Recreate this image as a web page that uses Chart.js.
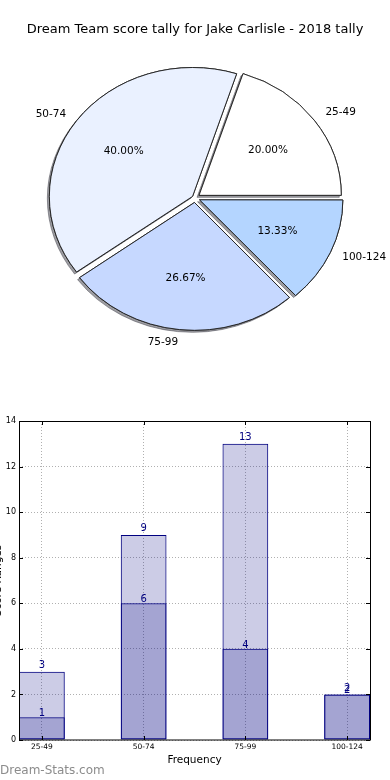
<!DOCTYPE html>
<html lang="en">
<head>
<meta charset="UTF-8" />
<title>Dream Team score tally</title>
<script src="https://cdn.jsdelivr.net/npm/chart.js@4.4.0/dist/chart.umd.min.js"></script>
<style>
	html, body { margin: 0; padding: 0; background: #fff; }
	body { width: 390px; height: 780px; position: relative; overflow: hidden; font-family: "DejaVu Sans", sans-serif; }
	#pieChart { position: absolute; left: 0; top: 0; }
	#barChart { position: absolute; left: 0; top: 400px; }
	.watermark { position: absolute; left: 0; top: 763px; font-size: 12px; line-height: 14px; color: #8c8c8c; }
</style>
</head>
<body>
<canvas id="pieChart" width="390" height="400"></canvas>
<canvas id="barChart" width="390" height="380"></canvas>
<div class="watermark">Dream-Stats.com</div>

<script>
// data
const titleText = "Dream Team score tally for Jake Carlisle - 2018 tally";
const pieCats = ["25-49", "50-74", "75-99", "100-124"];
const pieValues = [3, 6, 4, 2];
const pieColors = ["#ffffff", "#eaf1ff", "#c6d8ff", "#b4d5ff"];

const barCats = ["25-49", "50-74", "75-99", "100-124"];
const tallyTotal = [3, 9, 13, 2];
const tallyPart = [1, 6, 4, 2];
const yMax = 14;
const yStep = 2;
const xTitle = "Frequency";
const yTitle = "Score Ranges";

Chart.defaults.font.family = '"DejaVu Sans", sans-serif';
Chart.defaults.color = "#000";

// matplotlib pie is drawn on unequal axes -> squash it a bit
const SQUASH = 0.9;
function squash(chart) {
	const ctx = chart.ctx;
	const arc = chart.getDatasetMeta(0).data[0];
	ctx.translate(arc.x, arc.y);
	ctx.scale(1, SQUASH);
	ctx.translate(-arc.x, -arc.y);
}

const pieShape = {
	id: "pieShape",
	beforeDatasetsDraw(chart) {
		const ctx = chart.ctx;
		// shadows first, under every wedge
		ctx.save();
		squash(chart);
		ctx.shadowColor = "rgba(60,60,70,0.5)";
		ctx.shadowOffsetX = -2;
		ctx.shadowOffsetY = 2;
		ctx.shadowBlur = 0;
		chart.getDatasetMeta(0).data.forEach((a) => a.draw(ctx));
		ctx.restore();
		ctx.save();
		squash(chart);
	},
	afterDatasetsDraw(chart) {
		const ctx = chart.ctx;
		ctx.restore();
		const total = pieValues.reduce((s, v) => s + v, 0);
		const meta = chart.getDatasetMeta(0);
		ctx.save();
		ctx.font = '10.5px "DejaVu Sans"';
		ctx.fillStyle = "#000";
		ctx.textBaseline = "middle";
		meta.data.forEach((arc, i) => {
			const mid = (arc.startAngle + arc.endAngle) / 2;
			const shift = (arc.options.offset || 0) / 4;
			const at = (f) => [
				arc.x + Math.cos(mid) * (shift + f * arc.outerRadius),
				arc.y + Math.sin(mid) * (shift + f * arc.outerRadius) * SQUASH,
			];
			const [lx, ly] = at(1.1);
			ctx.textAlign = Math.cos(mid) > 0 ? "left" : "right";
			ctx.fillText(chart.data.labels[i], lx, ly);
			const [px, py] = at(0.6);
			ctx.textAlign = "center";
			ctx.fillText(((chart.data.datasets[0].data[i] / total) * 100).toFixed(2) + "%", px, py);
		});
		ctx.restore();
	},
};

// chart.js goes clockwise, matplotlib counter-clockwise -> reverse
new Chart(document.getElementById("pieChart"), {
	type: "pie",
	data: {
		labels: pieCats.slice().reverse(),
		datasets: [
			{
				data: pieValues.slice().reverse(),
				backgroundColor: pieColors.slice().reverse(),
				borderColor: "#222",
				borderWidth: 1,
				offset: [20, 20, 12, 20],
			},
		],
	},
	options: {
		responsive: false,
		animation: false,
		events: [],
		rotation: 90,
		radius: 142,
		layout: { padding: { top: 8, bottom: 41.6, left: 0, right: 0 } },
		plugins: {
			legend: { display: false },
			tooltip: { enabled: false },
			title: {
				display: true,
				text: titleText,
				color: "#000",
				font: { size: 13, weight: "normal" },
				padding: { top: 14, bottom: 0 },
			},
		},
	},
	plugins: [pieShape],
});

const barDecor = {
	id: "barDecor",
	afterDatasetsDraw(chart) {
		const { ctx, chartArea: a, scales } = chart;
		ctx.save();
		ctx.strokeStyle = "#000";
		ctx.lineWidth = 1;
		ctx.strokeRect(a.left + 0.5, a.top + 0.5, a.right - a.left, a.bottom - a.top - 0.5);
		// inward tick marks
		ctx.beginPath();
		scales.y.ticks.forEach((t) => {
			const py = Math.round(scales.y.getPixelForValue(t.value)) + 0.5;
			ctx.moveTo(a.left, py); ctx.lineTo(a.left + 4, py);
			ctx.moveTo(a.right, py); ctx.lineTo(a.right - 4, py);
		});
		scales.x.ticks.forEach((t) => {
			const px = Math.round(scales.x.getPixelForValue(t.value)) + 0.5;
			ctx.moveTo(px, a.bottom); ctx.lineTo(px, a.bottom - 4);
			ctx.moveTo(px, a.top); ctx.lineTo(px, a.top + 4);
		});
		ctx.stroke();
		// value labels
		ctx.font = '10px "DejaVu Sans"';
		ctx.fillStyle = "#000080";
		ctx.textAlign = "center";
		ctx.textBaseline = "alphabetic";
		chart.data.datasets.forEach((ds, di) => {
			chart.getDatasetMeta(di).data.forEach((bar, i) => {
				ctx.fillText(String(ds.data[i].y), bar.x, bar.y - ds.labelGap);
			});
		});
		// y title, mostly cut off at the left edge
		ctx.save();
		ctx.translate(0.5, (a.top + a.bottom) / 2);
		ctx.rotate(-Math.PI / 2);
		ctx.font = '10.5px "DejaVu Sans"';
		ctx.fillStyle = "#000";
		ctx.textAlign = "center";
		ctx.fillText(yTitle, 0, 0);
		ctx.restore();
		ctx.restore();
	},
};

new Chart(document.getElementById("barChart"), {
	type: "bar",
	data: {
		datasets: [
			{
				data: tallyTotal.map((v, i) => ({ x: i, y: v })),
				backgroundColor: "rgba(0,0,128,0.2)",
				borderColor: "#000080",
				borderWidth: 1,
				borderSkipped: false,
				labelGap: 3.5,
			},
			{
				data: tallyPart.map((v, i) => ({ x: i, y: v })),
				backgroundColor: "rgba(0,0,128,0.2)",
				borderColor: "#000080",
				borderWidth: 1,
				borderSkipped: false,
				labelGap: 1.3,
			},
		],
	},
	options: {
		responsive: false,
		animation: false,
		events: [],
		grouped: false,
		barPercentage: 0.45,
		categoryPercentage: 1,
		layout: { padding: { top: 21, right: 20, bottom: 0, left: 0 } },
		plugins: {
			legend: { display: false },
			tooltip: { enabled: false },
		},
		scales: {
			x: {
				type: "linear",
				min: -0.225,
				max: barCats.length - 1 + 0.225,
				offset: false,
				afterBuildTicks: (s) => {
					s.ticks = barCats.map((c, i) => ({ value: i }));
				},
				afterFit: (s) => {
					s.height = 40;
				},
				ticks: {
					callback: (v) => barCats[v],
					font: { size: 7.5 },
					padding: 3,
					maxRotation: 0,
					autoSkip: false,
				},
				grid: { offset: false, drawTicks: false, color: "#b0b0b0" },
				border: { display: false, dash: [1, 2] },
				title: {
					display: true,
					text: xTitle,
					font: { size: 10.5 },
					padding: { top: 0, bottom: 13.7 },
				},
			},
			y: {
				min: 0,
				max: yMax,
				afterFit: (s) => {
					s.width = 19;
				},
				ticks: { stepSize: yStep, font: { size: 8 }, padding: 3 },
				grid: { drawTicks: false, color: "#b0b0b0" },
				border: { display: false, dash: [1, 2] },
			},
		},
	},
	plugins: [barDecor],
});
</script>
</body>
</html>
